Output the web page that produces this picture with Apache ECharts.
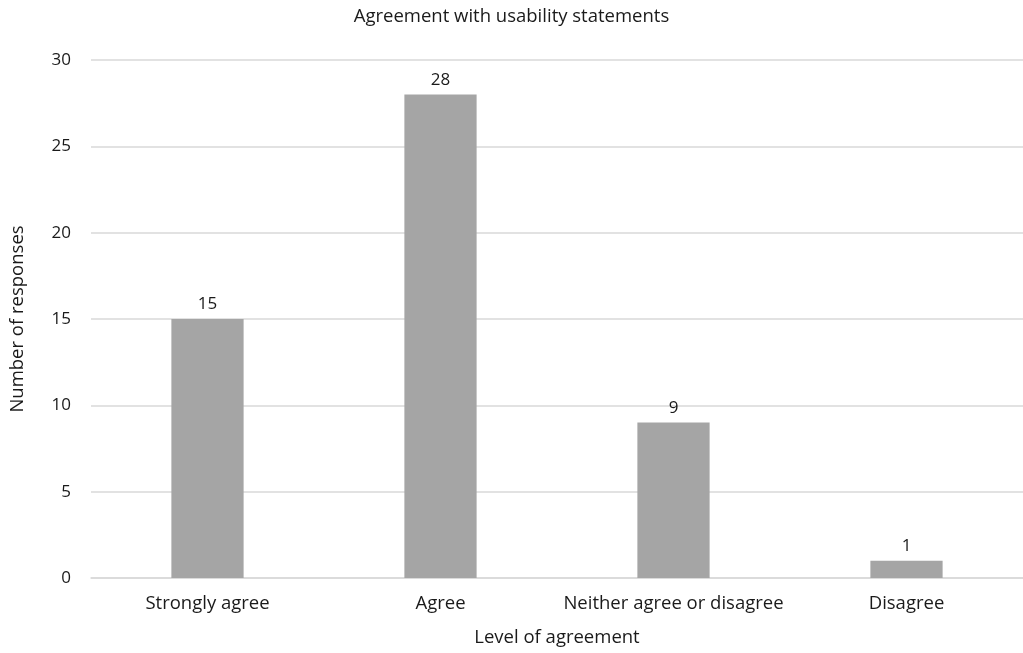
<!DOCTYPE html>
<html>
<head>
<meta charset="utf-8">
<script src="https://cdn.jsdelivr.net/npm/echarts@6/dist/echarts.min.js"></script>
<style>
  html, body { margin: 0; padding: 0; background: #fff; }
  #chart { width: 1023px; height: 653px; }
</style>
</head>
<body>
<div id="chart"></div>
<script>
// Survey responses by agreement level
const categories = ['Strongly agree', 'Agree', 'Neither agree or disagree', 'Disagree'];
const responses = [15, 28, 9, 1];
const yTicks = { min: 0, max: 30, interval: 5 };

const FONT = 'Open Sans';
const TEXT = '#1a1a1a';
const WORD_SIZE = 18.5;
const NUM_SIZE = 17;

const chart = echarts.init(document.getElementById('chart'), null, { renderer: 'canvas' });
chart.setOption({
  backgroundColor: '#ffffff',
  animation: false,
  title: {
    text: 'Agreement with usability statements',
    left: 'center',
    top: 2,
    textStyle: { fontFamily: FONT, fontSize: 18.5, fontWeight: 'normal', color: TEXT }
  },
  grid: { left: 90, top: 60, width: 936, height: 518, containLabel: false },
  xAxis: {
    type: 'category',
    data: categories,
    name: 'Level of agreement',
    nameLocation: 'middle',
    nameGap: 50,
    nameTextStyle: { fontFamily: FONT, fontSize: WORD_SIZE, color: TEXT },
    axisLine: { show: true, lineStyle: { color: '#d9d9d9', width: 1.5 } },
    axisTick: { show: false },
    axisLabel: {
      fontFamily: FONT, fontSize: WORD_SIZE, color: TEXT, margin: 16,
      interval: 0, hideOverlap: false
    }
  },
  yAxis: {
    type: 'value',
    min: yTicks.min,
    max: yTicks.max,
    interval: yTicks.interval,
    name: 'Number of responses',
    nameLocation: 'middle',
    nameGap: 64,
    nameRotate: 90,
    nameTextStyle: { fontFamily: FONT, fontSize: WORD_SIZE, color: TEXT },
    axisLine: { show: false },
    axisTick: { show: false },
    axisLabel: { fontFamily: FONT, fontSize: NUM_SIZE, color: TEXT, margin: 20 },
    splitLine: { lineStyle: { color: '#d9d9d9', width: 1.5 } }
  },
  series: [{
    type: 'bar',
    data: responses,
    barWidth: '31%',
    itemStyle: { color: '#a5a5a5' },
    label: {
      show: true,
      position: 'top',
      distance: 6,
      fontFamily: FONT,
      fontSize: NUM_SIZE,
      color: TEXT
    }
  }]
});
</script>
</body>
</html>
